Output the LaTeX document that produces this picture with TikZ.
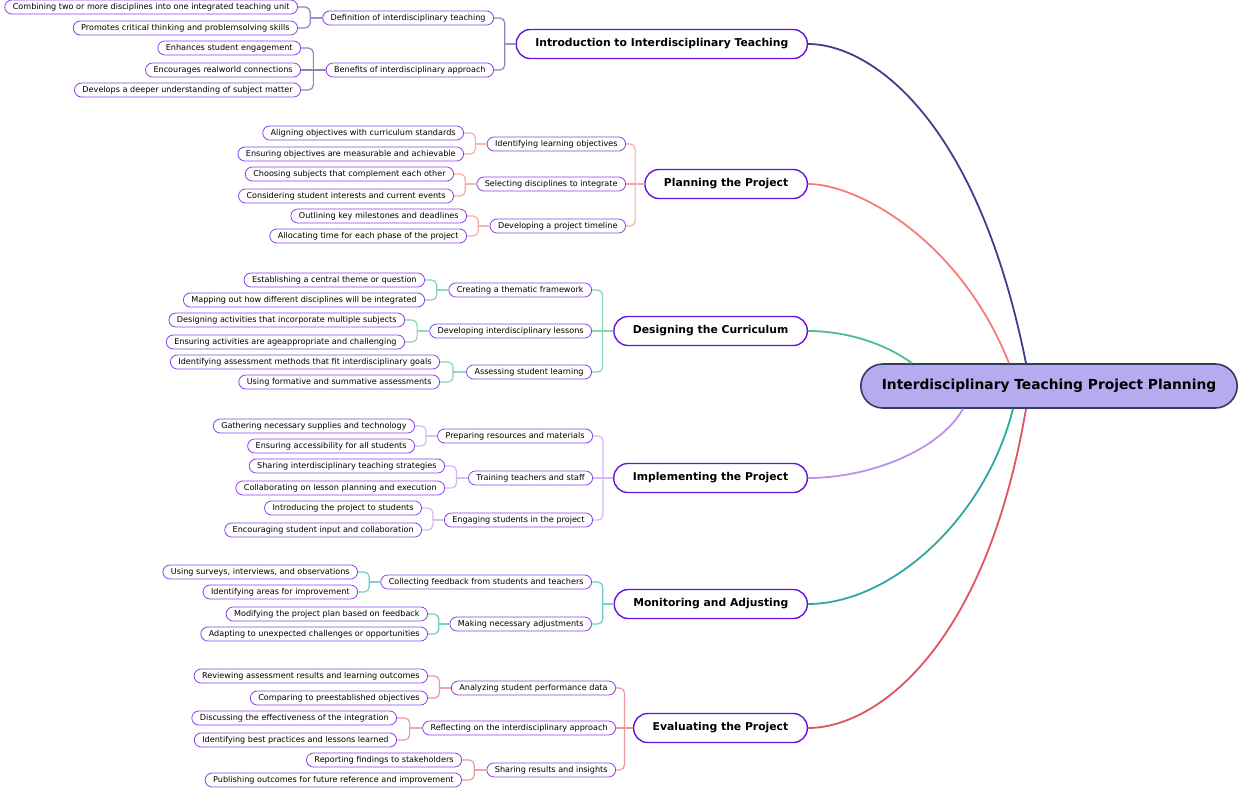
\documentclass[tikz,border=0pt]{standalone}
\usepackage{fontspec}
\setmainfont{DejaVu Sans}
\usetikzlibrary{calc}
\definecolor{rootfill}{HTML}{B8AAEE}
\definecolor{rootline}{HTML}{2E3F60}
\definecolor{topicline}{HTML}{6A12DC}
\definecolor{leafline}{HTML}{8A40EE}
\definecolor{introc}{HTML}{3F3F8C}
\definecolor{introb}{HTML}{8787BE}
\definecolor{planc}{HTML}{F77B7B}
\definecolor{planb}{HTML}{F9A7A7}
\definecolor{designc}{HTML}{4DBF86}
\definecolor{designb}{HTML}{85D6AE}
\definecolor{implc}{HTML}{BC92E8}
\definecolor{implb}{HTML}{D4B8F2}
\definecolor{monitc}{HTML}{2BA9A0}
\definecolor{monitb}{HTML}{70CAC3}
\definecolor{evalc}{HTML}{E3525F}
\definecolor{evalb}{HTML}{EE97A0}
\begin{document}
\begin{tikzpicture}[x=1pt,y=-1pt,
    root/.style={draw=rootline,fill=rootfill,line width=1.6pt,rounded corners=22pt,
      minimum height=44pt,inner xsep=21pt,font=\bfseries\fontsize{13.8}{16}\selectfont},
    topic/.style={draw=topicline,fill=white,line width=1.4pt,rounded corners=14pt,
      minimum height=29pt,inner xsep=19pt,anchor=east,font=\bfseries\fontsize{10.8}{12}\selectfont},
    sub/.style={draw=leafline,fill=white,line width=0.8pt,rounded corners=7pt,
      minimum height=14pt,inner ysep=0pt,inner xsep=8pt,anchor=east,font=\fontsize{8.1}{9}\selectfont},
    elbow/.style={line width=1.2pt,
      to path={-- ($(\tikztostart)!.5!(\tikztotarget |- \tikztostart)$)
        ($(\tikztostart)!.5!(\tikztotarget |- \tikztostart)$)
        [rounded corners=5pt] |- (\tikztotarget)}},
    straight/.style={line width=1.2pt},
    curve/.style={line width=1.8pt}]
  \useasboundingbox (0,0) rectangle (1240,788);
  % central topic
  \node[root] (root) at (1049,386) {Interdisciplinary Teaching Project Planning};
  \coordinate (r1) at ($(root.north)+(-23,0)$);
  \coordinate (r2) at ($(root.north)+(-40,0)$);
  \coordinate (r3) at ($(root.north)+(-137,0)$);
  \coordinate (r4) at ($(root.south)+(-86,0)$);
  \coordinate (r5) at ($(root.south)+(-36,0)$);
  \coordinate (r6) at ($(root.south)+(-23,0)$);
  % main topics
  \node[topic] (intro) at (808,44) {Introduction to Interdisciplinary Teaching};
  \node[topic] (plan) at (808,184) {Planning the Project};
  \node[topic] (design) at (808,331) {Designing the Curriculum};
  \node[topic] (impl) at (808,478) {Implementing the Project};
  \node[topic] (monit) at (808,604) {Monitoring and Adjusting};
  \node[topic] (eval) at (808,728) {Evaluating the Project};
  % subtopics
  \node[sub] (intro1) at (494,18) {Definition of interdisciplinary teaching};
  \node[sub] (intro2) at (494,70) {Benefits of interdisciplinary approach};
  \node[sub] (plan1) at (626,144) {Identifying learning objectives};
  \node[sub] (plan2) at (626,184) {Selecting disciplines to integrate};
  \node[sub] (plan3) at (626,226) {Developing a project timeline};
  \node[sub] (design1) at (592,290) {Creating a thematic framework};
  \node[sub] (design2) at (592,331) {Developing interdisciplinary lessons};
  \node[sub] (design3) at (592,372) {Assessing student learning};
  \node[sub] (impl1) at (593,436) {Preparing resources and materials};
  \node[sub] (impl2) at (593,478) {Training teachers and staff};
  \node[sub] (impl3) at (593,520) {Engaging students in the project};
  \node[sub] (monit1) at (592,582) {Collecting feedback from students and teachers};
  \node[sub] (monit2) at (592,624) {Making necessary adjustments};
  \node[sub] (eval1) at (616,688) {Analyzing student performance data};
  \node[sub] (eval2) at (616,728) {Reflecting on the interdisciplinary approach};
  \node[sub] (eval3) at (616,770) {Sharing results and insights};
  % details
  \node[sub] (intro1a) at (298,7) {Combining two or more disciplines into one integrated teaching unit};
  \node[sub] (intro1b) at (298,28) {Promotes critical thinking and problemsolving skills};
  \node[sub] (intro2a) at (301,48) {Enhances student engagement};
  \node[sub] (intro2b) at (301,70) {Encourages realworld connections};
  \node[sub] (intro2c) at (301,90) {Develops a deeper understanding of subject matter};
  \node[sub] (plan1a) at (464,133) {Aligning objectives with curriculum standards};
  \node[sub] (plan1b) at (464,154) {Ensuring objectives are measurable and achievable};
  \node[sub] (plan2a) at (454,174) {Choosing subjects that complement each other};
  \node[sub] (plan2b) at (454,196) {Considering student interests and current events};
  \node[sub] (plan3a) at (467,216) {Outlining key milestones and deadlines};
  \node[sub] (plan3b) at (467,236) {Allocating time for each phase of the project};
  \node[sub] (design1a) at (425,280) {Establishing a central theme or question};
  \node[sub] (design1b) at (425,300) {Mapping out how different disciplines will be integrated};
  \node[sub] (design2a) at (405,320) {Designing activities that incorporate multiple subjects};
  \node[sub] (design2b) at (405,342) {Ensuring activities are ageappropriate and challenging};
  \node[sub] (design3a) at (440,362) {Identifying assessment methods that fit interdisciplinary goals};
  \node[sub] (design3b) at (440,382) {Using formative and summative assessments};
  \node[sub] (impl1a) at (415,426) {Gathering necessary supplies and technology};
  \node[sub] (impl1b) at (415,446) {Ensuring accessibility for all students};
  \node[sub] (impl2a) at (445,466) {Sharing interdisciplinary teaching strategies};
  \node[sub] (impl2b) at (445,488) {Collaborating on lesson planning and execution};
  \node[sub] (impl3a) at (422,508) {Introducing the project to students};
  \node[sub] (impl3b) at (422,530) {Encouraging student input and collaboration};
  \node[sub] (monit1a) at (358,572) {Using surveys, interviews, and observations};
  \node[sub] (monit1b) at (358,592) {Identifying areas for improvement};
  \node[sub] (monit2a) at (428,614) {Modifying the project plan based on feedback};
  \node[sub] (monit2b) at (428,634) {Adapting to unexpected challenges or opportunities};
  \node[sub] (eval1a) at (428,676) {Reviewing assessment results and learning outcomes};
  \node[sub] (eval1b) at (428,698) {Comparing to preestablished objectives};
  \node[sub] (eval2a) at (397,718) {Discussing the effectiveness of the integration};
  \node[sub] (eval2b) at (397,740) {Identifying best practices and lessons learned};
  \node[sub] (eval3a) at (462,760) {Reporting findings to stakeholders};
  \node[sub] (eval3b) at (462,780) {Publishing outcomes for future reference and improvement};
  % curves to the central topic
  \draw[curve,introc] (intro.east) .. controls (868,44) and (976,114) .. (r1);
  \draw[curve,planc] (plan.east) .. controls (858,184) and (960,240) .. (r2);
  \draw[curve,designc] (design.east) .. controls (840,331) and (880,340) .. (r3);
  \draw[curve,implc] (impl.east) .. controls (870,478) and (940,450) .. (r4);
  \draw[curve,monitc] (monit.east) .. controls (890,604) and (985,520) .. (r5);
  \draw[curve,evalc] (eval.east) .. controls (875,728) and (985,650) .. (r6);
  % brackets
  \begin{scope}[introb]
    \draw[elbow] (intro.west) to (intro1.east);
    \draw[elbow] (intro.west) to (intro2.east);
    \draw[elbow] (intro1.west) to (intro1a.east);
    \draw[elbow] (intro1.west) to (intro1b.east);
    \draw[elbow] (intro2.west) to (intro2a.east);
    \draw[straight] (intro2.west) -- (intro2b.east);
    \draw[elbow] (intro2.west) to (intro2c.east);
  \end{scope}
  \begin{scope}[planb]
    \draw[elbow] (plan.west) to (plan1.east);
    \draw[straight] (plan.west) -- (plan2.east);
    \draw[elbow] (plan.west) to (plan3.east);
    \draw[elbow] (plan1.west) to (plan1a.east);
    \draw[elbow] (plan1.west) to (plan1b.east);
    \draw[elbow] (plan2.west) to (plan2a.east);
    \draw[elbow] (plan2.west) to (plan2b.east);
    \draw[elbow] (plan3.west) to (plan3a.east);
    \draw[elbow] (plan3.west) to (plan3b.east);
  \end{scope}
  \begin{scope}[designb]
    \draw[elbow] (design.west) to (design1.east);
    \draw[straight] (design.west) -- (design2.east);
    \draw[elbow] (design.west) to (design3.east);
    \draw[elbow] (design1.west) to (design1a.east);
    \draw[elbow] (design1.west) to (design1b.east);
    \draw[elbow] (design2.west) to (design2a.east);
    \draw[elbow] (design2.west) to (design2b.east);
    \draw[elbow] (design3.west) to (design3a.east);
    \draw[elbow] (design3.west) to (design3b.east);
  \end{scope}
  \begin{scope}[implb]
    \draw[elbow] (impl.west) to (impl1.east);
    \draw[straight] (impl.west) -- (impl2.east);
    \draw[elbow] (impl.west) to (impl3.east);
    \draw[elbow] (impl1.west) to (impl1a.east);
    \draw[elbow] (impl1.west) to (impl1b.east);
    \draw[elbow] (impl2.west) to (impl2a.east);
    \draw[elbow] (impl2.west) to (impl2b.east);
    \draw[elbow] (impl3.west) to (impl3a.east);
    \draw[elbow] (impl3.west) to (impl3b.east);
  \end{scope}
  \begin{scope}[monitb]
    \draw[elbow] (monit.west) to (monit1.east);
    \draw[elbow] (monit.west) to (monit2.east);
    \draw[elbow] (monit1.west) to (monit1a.east);
    \draw[elbow] (monit1.west) to (monit1b.east);
    \draw[elbow] (monit2.west) to (monit2a.east);
    \draw[elbow] (monit2.west) to (monit2b.east);
  \end{scope}
  \begin{scope}[evalb]
    \draw[elbow] (eval.west) to (eval1.east);
    \draw[straight] (eval.west) -- (eval2.east);
    \draw[elbow] (eval.west) to (eval3.east);
    \draw[elbow] (eval1.west) to (eval1a.east);
    \draw[elbow] (eval1.west) to (eval1b.east);
    \draw[elbow] (eval2.west) to (eval2a.east);
    \draw[elbow] (eval2.west) to (eval2b.east);
    \draw[elbow] (eval3.west) to (eval3a.east);
    \draw[elbow] (eval3.west) to (eval3b.east);
  \end{scope}
\end{tikzpicture}
\end{document}
